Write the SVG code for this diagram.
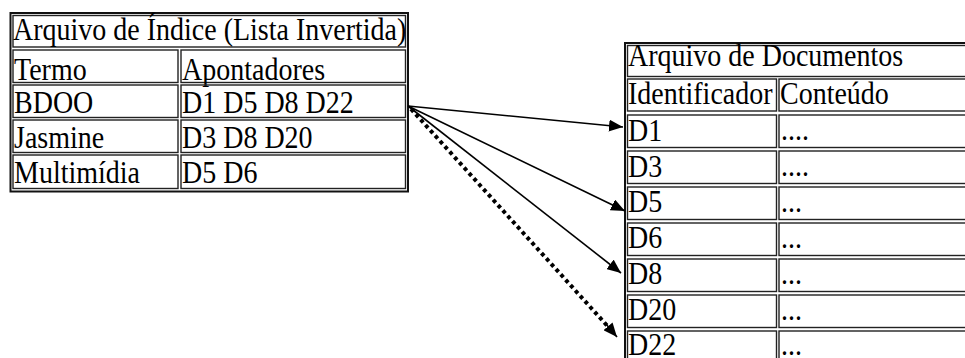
<svg xmlns="http://www.w3.org/2000/svg" width="965" height="358" viewBox="0 0 965 358">
  <style>
    .frame { fill: none; stroke: #111; stroke-width: 2; }
    .cell { fill: none; stroke: #222; stroke-width: 1.4; }
    .t { font-family: "Liberation Serif", "Times New Roman", serif; font-size: 28px; fill: #000; }
    .conn { fill: none; stroke: #000; stroke-width: 1.6; }
    .dotted { fill: none; stroke: #000; stroke-width: 4; stroke-dasharray: 3.8 3.4; }
  </style>
  <defs>
    <marker id="head" markerUnits="userSpaceOnUse" markerWidth="14" markerHeight="12" viewBox="0 0 14 12" refX="14" refY="6" orient="auto">
      <path d="M0,0 L14,6 L0,12 Z" fill="#000"/>
    </marker>
  </defs>
  <rect width="965" height="358" fill="#fff"/>

  <!-- Inverted index file; glyphs are stretched a little in height about their baseline -->
  <g id="indice">
    <rect class="frame" x="10.5" y="13" width="397.5" height="178.5"/>
    <rect class="cell" x="13" y="15.5" width="392.5" height="31.5"/>
    <text class="t" x="13" y="40" transform="matrix(1 0 0 1.12 0 -4.8)">Arquivo de Índice (Lista Invertida)</text>

    <rect class="cell" x="13" y="50" width="165" height="32.5"/>
    <rect class="cell" x="181" y="50" width="224.5" height="32.5"/>
    <g transform="matrix(1 0 0 1.12 0 -9.6)">
      <text class="t" x="14" y="80">Termo</text>
      <text class="t" x="182" y="80">Apontadores</text>
    </g>

    <rect class="cell" x="13" y="85" width="165" height="32.5"/>
    <rect class="cell" x="181" y="85" width="224.5" height="32.5"/>
    <g transform="matrix(1 0 0 1.12 0 -13.56)">
      <text class="t" x="14" y="113">BDOO</text>
      <text class="t" x="182" y="113">D1 D5 D8 D22</text>
    </g>

    <rect class="cell" x="13" y="120" width="165" height="32.5"/>
    <rect class="cell" x="181" y="120" width="224.5" height="32.5"/>
    <g transform="matrix(1 0 0 1.12 0 -17.76)">
      <text class="t" x="14" y="148">Jasmine</text>
      <text class="t" x="182" y="148">D3 D8 D20</text>
    </g>

    <rect class="cell" x="13" y="155" width="165" height="33.5"/>
    <rect class="cell" x="181" y="155" width="224.5" height="33.5"/>
    <g transform="matrix(1 0 0 1.12 0 -21.96)">
      <text class="t" x="14" y="183">Multimídia</text>
      <text class="t" x="182" y="183">D5 D6</text>
    </g>
  </g>

  <!-- Document file (continues past the right and bottom edges) -->
  <g id="documentos">
    <rect class="frame" x="625" y="43" width="360" height="330"/>
    <rect class="cell" x="627.5" y="45.5" width="350" height="31"/>
    <text class="t" x="628" y="66" transform="matrix(1 0 0 1.12 0 -7.92)">Arquivo de Documentos</text>

    <rect class="cell" x="627.5" y="79" width="149" height="32"/>
    <rect class="cell" x="779" y="79" width="200" height="32"/>
    <g transform="matrix(1 0 0 1.12 0 -12.48)">
      <text class="t" x="628" y="104">Identificador</text>
      <text class="t" x="780" y="104">Conteúdo</text>
    </g>

    <rect class="cell" x="627.5" y="115" width="149" height="32.5"/>
    <rect class="cell" x="779" y="115" width="200" height="32.5"/>
    <g transform="matrix(1 0 0 1.12 0 -16.92)">
      <text class="t" x="628" y="141">D1</text>
      <text class="t" x="781" y="140">....</text>
    </g>

    <rect class="cell" x="627.5" y="151" width="149" height="32.5"/>
    <rect class="cell" x="779" y="151" width="200" height="32.5"/>
    <g transform="matrix(1 0 0 1.12 0 -21.24)">
      <text class="t" x="628" y="177">D3</text>
      <text class="t" x="781" y="176">....</text>
    </g>

    <rect class="cell" x="627.5" y="187" width="149" height="32.5"/>
    <rect class="cell" x="779" y="187" width="200" height="32.5"/>
    <g transform="matrix(1 0 0 1.12 0 -25.44)">
      <text class="t" x="628" y="212">D5</text>
      <text class="t" x="781" y="212">...</text>
    </g>

    <rect class="cell" x="627.5" y="223" width="149" height="32.5"/>
    <rect class="cell" x="779" y="223" width="200" height="32.5"/>
    <g transform="matrix(1 0 0 1.12 0 -29.76)">
      <text class="t" x="628" y="248">D6</text>
      <text class="t" x="781" y="248">...</text>
    </g>

    <rect class="cell" x="627.5" y="259" width="149" height="32.5"/>
    <rect class="cell" x="779" y="259" width="200" height="32.5"/>
    <g transform="matrix(1 0 0 1.12 0 -34.08)">
      <text class="t" x="628" y="284">D8</text>
      <text class="t" x="781" y="284">...</text>
    </g>

    <rect class="cell" x="627.5" y="295" width="149" height="32.5"/>
    <rect class="cell" x="779" y="295" width="200" height="32.5"/>
    <g transform="matrix(1 0 0 1.12 0 -38.4)">
      <text class="t" x="628" y="320">D20</text>
      <text class="t" x="781" y="320">...</text>
    </g>

    <rect class="cell" x="627.5" y="331" width="149" height="40"/>
    <rect class="cell" x="779" y="331" width="200" height="40"/>
    <g transform="matrix(1 0 0 1.12 0 -42.6)">
      <text class="t" x="628" y="355">D22</text>
      <text class="t" x="781" y="355">...</text>
    </g>
  </g>

  <!-- Pointers from BDOO to its documents -->
  <g id="conectores">
    <path class="conn" d="M408,106 L623,127" marker-end="url(#head)"/>
    <path class="conn" d="M408,106 L625,211" marker-end="url(#head)"/>
    <path class="conn" d="M408,106 L621,273" marker-end="url(#head)"/>
    <path class="dotted" d="M411,109 L612,331"/>
    <path class="conn" d="M606,324 L617,337" marker-end="url(#head)"/>
  </g>
</svg>
